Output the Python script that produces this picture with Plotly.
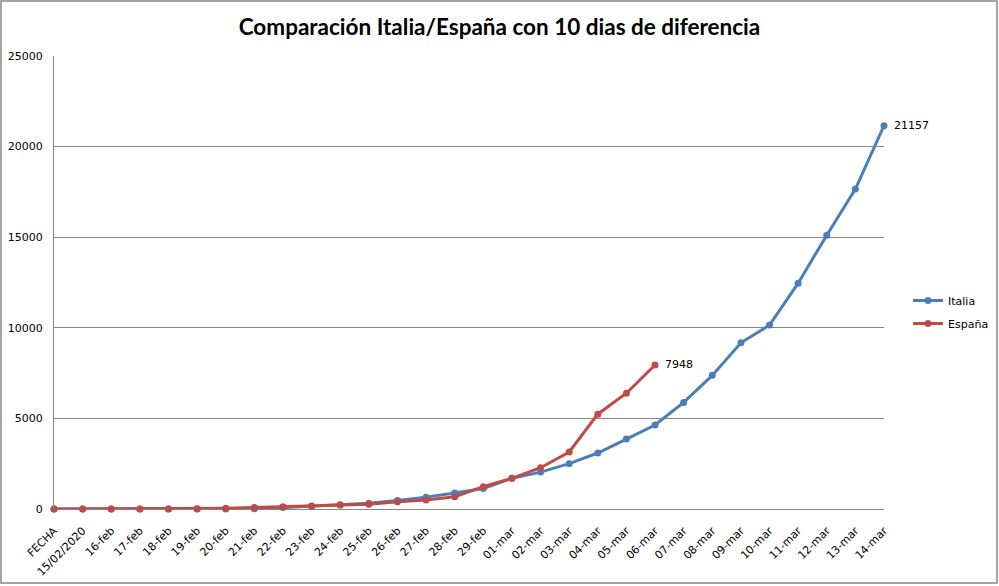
import plotly.graph_objects as go

categorias = ["FECHA", "15/02/2020"] + [f"{d}-feb" for d in range(16, 30)] + [f"{d:02d}-mar" for d in range(1, 15)]

italia = [0, 3, 3, 3, 3, 3, 3, 20, 79, 157, 229, 323, 470, 655, 888, 1128,
          1694, 2036, 2502, 3089, 3858, 4636, 5883, 7375, 9172, 10149,
          12462, 15113, 17660, 21157]

espana = [0, 2, 2, 2, 2, 13, 45, 84, 120, 165, 222, 259, 400, 500, 673, 1231,
          1695, 2277, 3146, 5232, 6391, 7948]

titulo = "Comparación Italia/España con 10 dias de diferencia"

W, H = 999, 586
L, R, T, B = 54, 884, 56, 509

fig = go.Figure()
fig.add_trace(go.Scatter(
    x=categorias, y=italia, name="Italia", mode="lines+markers", legendgroup="it",
    line=dict(color="#4A7EBB", width=3), marker=dict(size=7, color="#4A7EBB"),
    cliponaxis=False))
fig.add_trace(go.Scatter(
    x=categorias[:len(espana)], y=espana, name="España", mode="lines+markers", legendgroup="es",
    line=dict(color="#BE4B48", width=3), marker=dict(size=7, color="#BE4B48"),
    cliponaxis=False))

annots = []
for serie in (italia, espana):
    annots.append(dict(x=categorias[len(serie) - 1], y=serie[-1], text=str(serie[-1]),
                       showarrow=False, xanchor="left", yanchor="middle", xshift=8,
                       font=dict(family="DejaVu Sans", size=11, color="black")))

pw, ph = R - L, B - T
fig.update_layout(
    width=W, height=H,
    margin=dict(l=L, r=W - R, t=T, b=H - B, autoexpand=False),
    paper_bgcolor="white", plot_bgcolor="white",
    title=dict(text=f"<b>{titulo}</b>", x=0.5, xanchor="center",
               y=1 - 27 / H, yanchor="middle",
               font=dict(family="Lato", size=22.5, color="black")),
    font=dict(family="DejaVu Sans", size=10, color="black"),
    showlegend=True,
    legend=dict(x=(908 - L) / pw, y=(B - 312) / ph, xanchor="left", yanchor="middle",
                font=dict(family="DejaVu Sans", size=11, color="black"),
                bgcolor="rgba(0,0,0,0)", itemwidth=30, tracegroupgap=4),
    xaxis=dict(type="category", range=[0, len(categorias) - 1], tickangle=-45,
               showgrid=False, showline=False, zeroline=False,
               ticks="outside", ticklen=10, tickcolor="rgba(0,0,0,0)",
               tickfont=dict(family="DejaVu Sans", size=11)),
    yaxis=dict(range=[0, 25000], dtick=5000, showgrid=True, gridcolor="#868686",
               gridwidth=1, showline=True, linecolor="#868686", linewidth=1,
               zeroline=True, zerolinecolor="#868686", zerolinewidth=1,
               ticks="", tickformat="d", ticklabelstandoff=8,
               tickfont=dict(family="DejaVu Sans", size=11)),
    annotations=annots,
    shapes=[dict(type="rect", xref="paper", yref="paper",
                 x0=(1 - L) / pw, x1=(997 - L) / pw,
                 y0=(B - 583) / ph, y1=(B - 1) / ph,
                 line=dict(color="#868686", width=1.5), fillcolor="rgba(0,0,0,0)",
                 layer="below")],
)

fig.write_html("out.html", config={"displayModeBar": False},
               post_script="document.body.style.margin='0';document.body.style.overflow='hidden';")
